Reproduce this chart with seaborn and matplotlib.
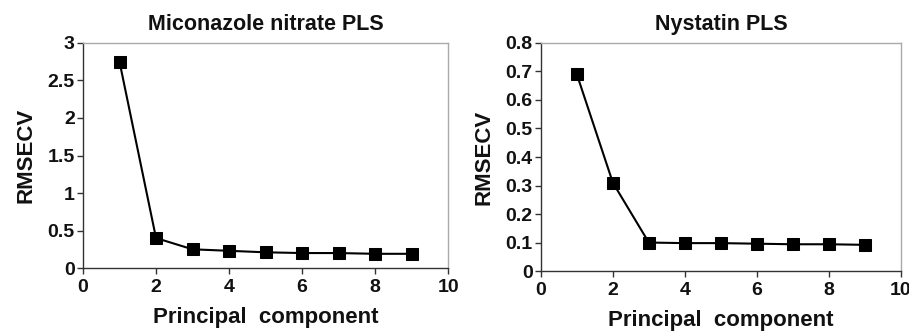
import pandas as pd
import seaborn as sns
import matplotlib.pyplot as plt

components = [1, 2, 3, 4, 5, 6, 7, 8, 9]
miconazole_rmsecv = [2.75, 0.40, 0.25, 0.23, 0.21, 0.20, 0.20, 0.19, 0.19]
nystatin_rmsecv = [0.69, 0.31, 0.10, 0.098, 0.098, 0.096, 0.094, 0.094, 0.092]

titles = ["Miconazole nitrate PLS", "Nystatin PLS"]
y_limits = [(0, 3), (0, 0.8)]
y_ticks = [[0, 0.5, 1, 1.5, 2, 2.5, 3], [0, 0.1, 0.2, 0.3, 0.4, 0.5, 0.6, 0.7, 0.8]]
y_ticklabels = [["0", "0.5", "1", "1.5", "2", "2.5", "3"],
                ["0", "0.1", "0.2", "0.3", "0.4", "0.5", "0.6", "0.7", "0.8"]]
x_ticks = [0, 2, 4, 6, 8, 10]

sns.set_style("white")
plt.rcParams["font.family"] = ["Liberation Sans", "DejaVu Sans"]

fig = plt.figure(figsize=(9.09, 3.33), dpi=100)
ax1 = fig.add_axes([0.0913, 0.195, 0.4017, 0.676])
ax2 = fig.add_axes([0.595, 0.186, 0.396, 0.685])

series = [miconazole_rmsecv, nystatin_rmsecv]
for i, ax in enumerate([ax1, ax2]):
    df = pd.DataFrame({"pc": components, "rmsecv": series[i]})
    sns.lineplot(data=df, x="pc", y="rmsecv", ax=ax, color="black", marker="s",
                 markersize=8, markeredgecolor="black", linewidth=1.5)
    ax.set_xlim(0, 10)
    ax.set_ylim(*y_limits[i])
    ax.set_xticks(x_ticks)
    ax.set_yticks(y_ticks[i])
    ax.set_yticklabels(y_ticklabels[i])
    ax.set_title(titles[i], fontsize=15.5, fontweight="bold", pad=9, color="#111111")
    ax.set_xlabel("Principal  component", fontsize=16, fontweight="bold", labelpad=8,
                  color="#111111")
    ax.set_ylabel("RMSECV", fontsize=16, fontweight="bold", labelpad=8, color="#111111")
    ax.tick_params(axis="both", direction="out", length=4, width=1, color="#333333",
                   labelsize=14, left=True, bottom=True, pad=2, labelcolor="#111111")
    ax.tick_params(axis="x", pad=4)
    for lab in ax.get_xticklabels() + ax.get_yticklabels():
        lab.set_fontweight("bold")
    ax.spines["left"].set_color("#333333")
    ax.spines["bottom"].set_color("#333333")
    ax.spines["top"].set_color("#aaaaaa")
    ax.spines["right"].set_color("#aaaaaa")
    for s in ax.spines.values():
        s.set_linewidth(1)

fig.savefig("out.png", dpi=100)
